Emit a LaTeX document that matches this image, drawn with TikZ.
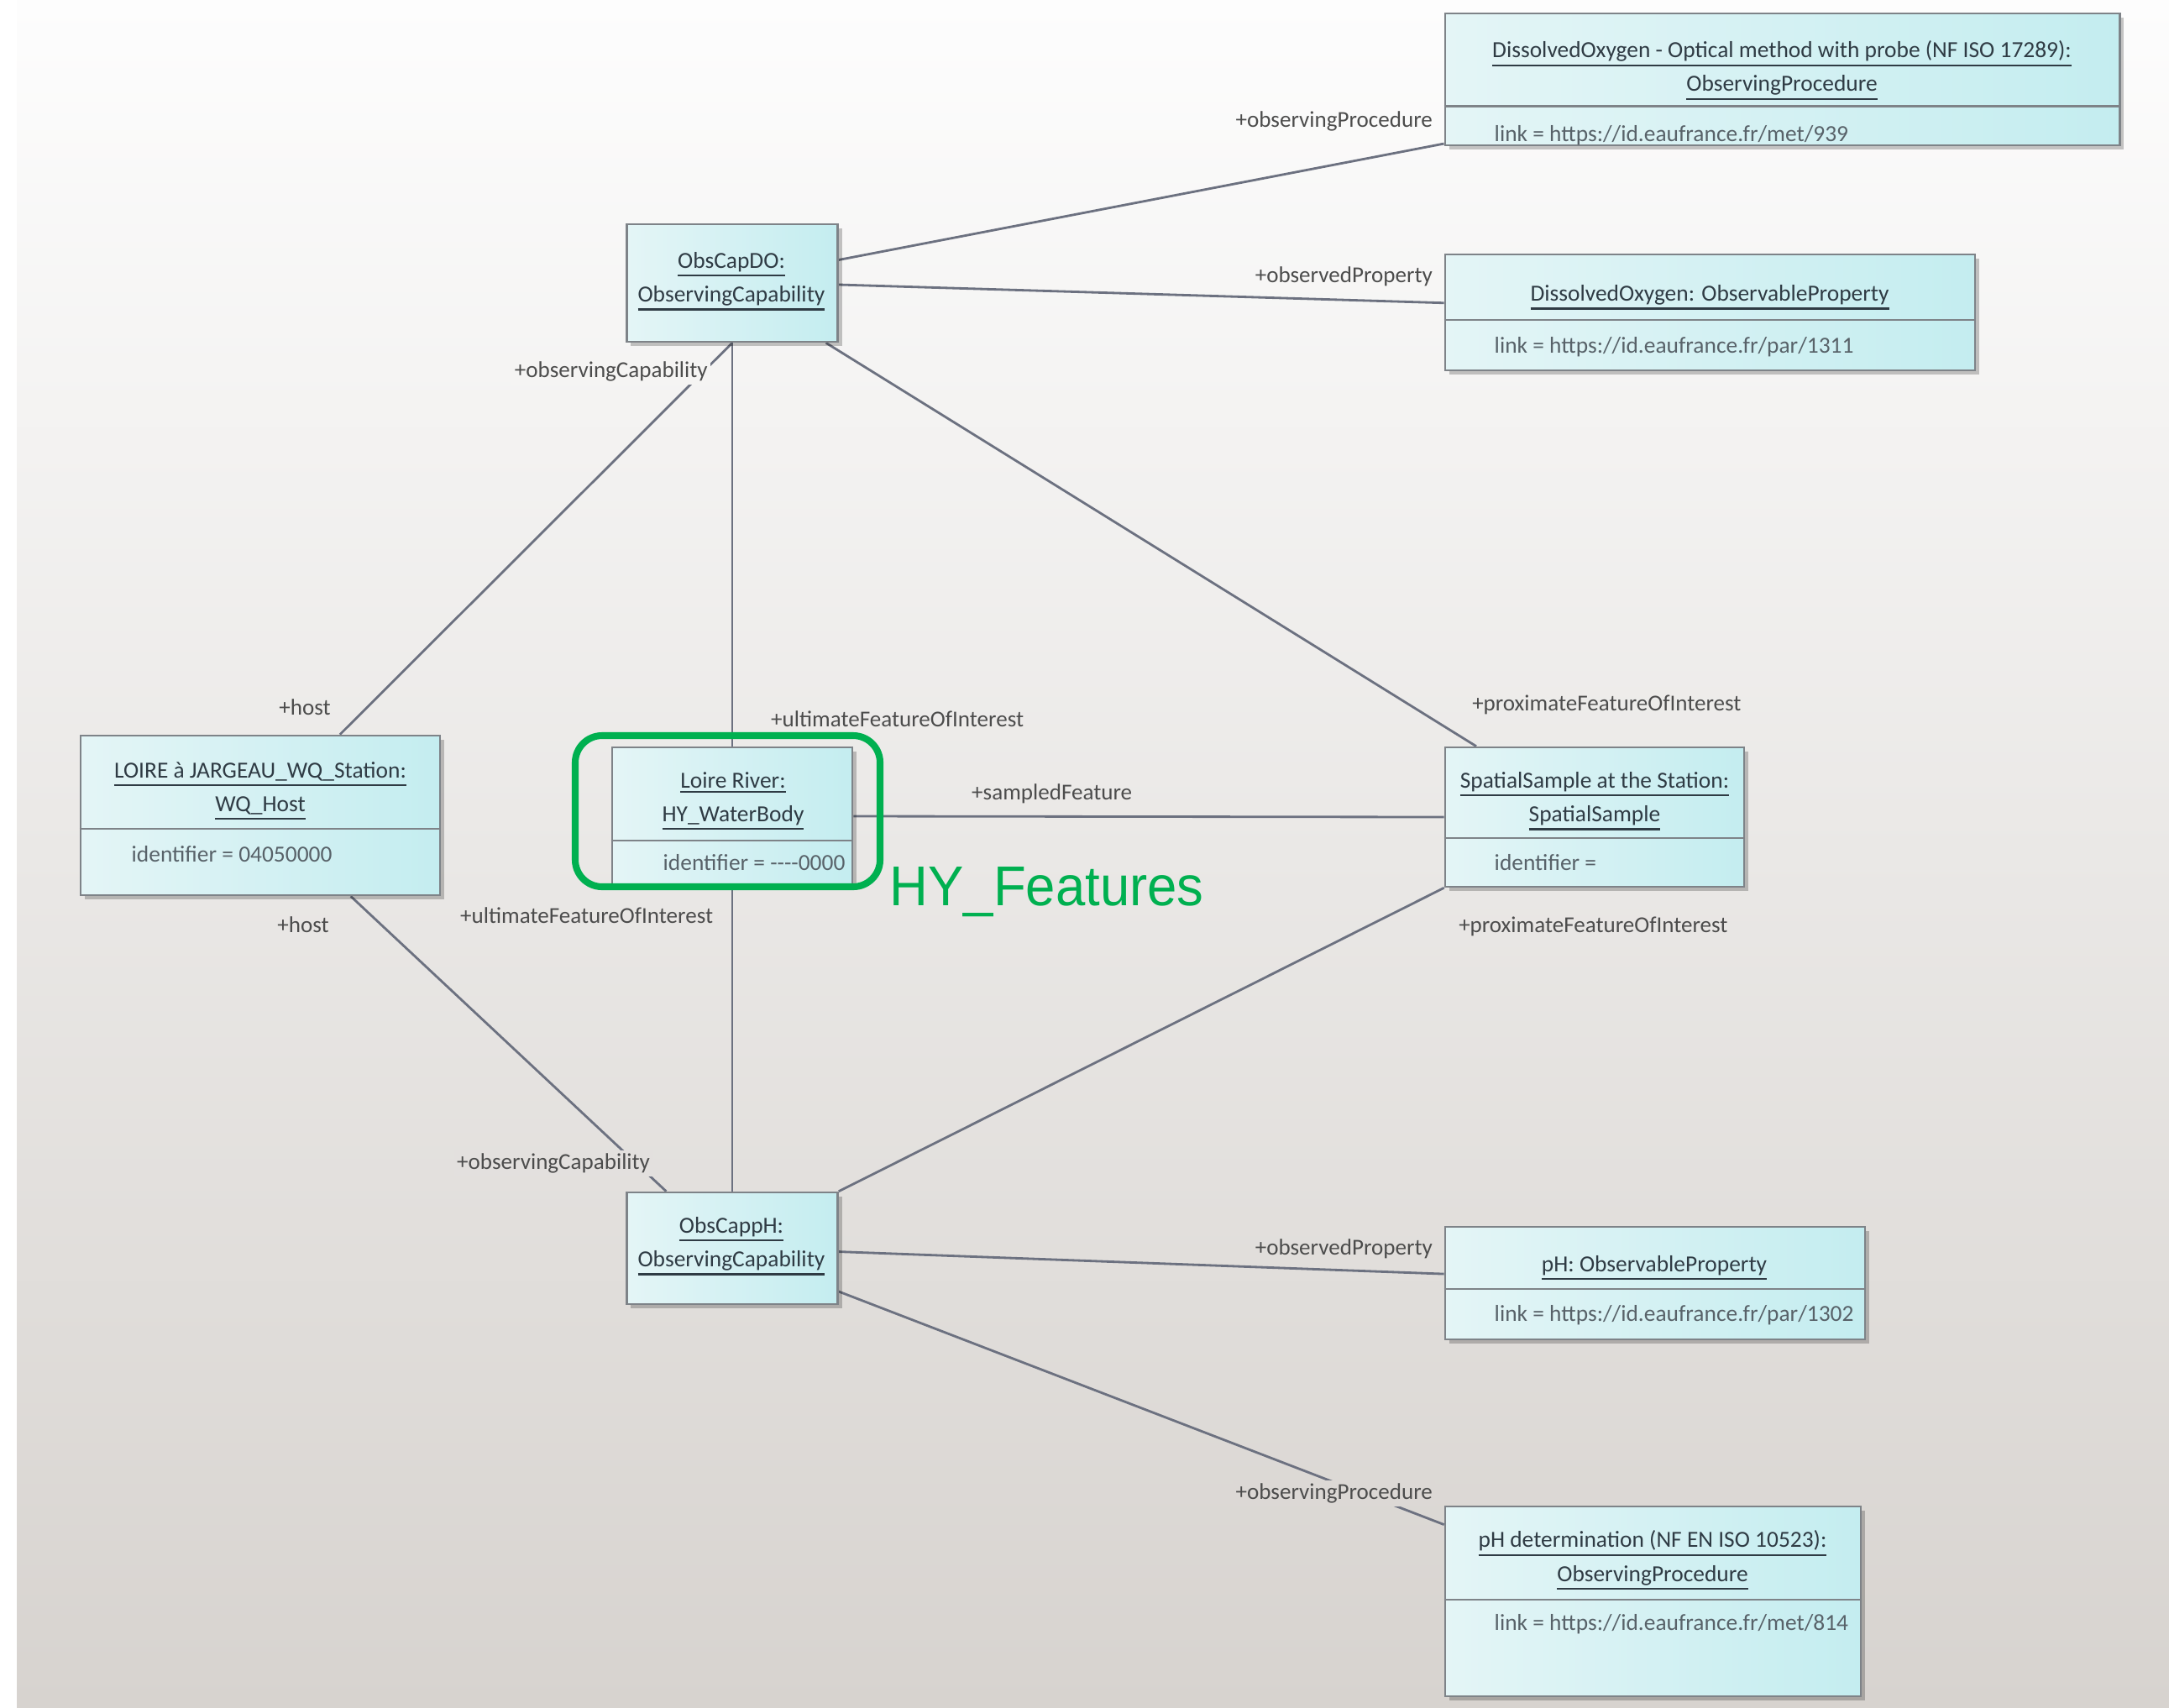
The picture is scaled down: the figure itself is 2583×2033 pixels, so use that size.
\documentclass[tikz,border=0pt]{standalone}
\usepackage{fontspec}
\usepackage{graphicx}
\setmainfont{Carlito}
\newfontfamily\arialf{Liberation Sans}
\usetikzlibrary{calc,shadows}
\definecolor{bgtop}{HTML}{FDFDFD}
\definecolor{bgbot}{HTML}{D7D3CF}
\definecolor{boxl}{HTML}{E4F5F6}
\definecolor{boxr}{HTML}{C4EDF0}
\definecolor{boxdraw}{HTML}{7E8388}
\definecolor{conn}{HTML}{6C7180}
\definecolor{txt}{HTML}{2F3B44}
\definecolor{lbl}{HTML}{4C4C4C}
\definecolor{hygreen}{HTML}{00B050}
\newcommand\ulname[1]{\vtop{\hbox{#1}\kern0.9pt\hrule height 0.65pt}}
\pgfdeclarelayer{bglayer}
\pgfdeclarelayer{linelayer}
\pgfsetlayers{bglayer,linelayer,main}
\begin{document}
\begin{tikzpicture}[x=0.01cm,y=-0.01cm,
  umlbox/.style={draw=boxdraw, line width=0.7pt, left color=boxl, right color=boxr,
    drop shadow={shadow xshift=0.05cm, shadow yshift=-0.05cm, fill=black, opacity=0.22},
    inner sep=0pt},
  divider/.style={draw=boxdraw, line width=0.7pt},
  conn/.style={draw=conn, line width=0.8pt},
  titletext/.style={font=\fontsize{7.8}{11.4}\selectfont, text=txt, align=center, inner sep=0pt},
  attrtext/.style={font=\fontsize{7.8}{10.2}\selectfont, text=txt!80, anchor=mid west, inner sep=0pt},
  rolelabel/.style={font=\fontsize{7.7}{9}\selectfont, text=lbl, inner sep=1pt},
  hyframe/.style={draw=hygreen, line width=2.3pt, rounded corners=0.32cm}
]
\useasboundingbox (0,0) rectangle (2583,2033);
\begin{pgfonlayer}{bglayer}
  \fill[white] (0,0) rectangle (2583,2033);
  \shade[top color=bgtop, bottom color=bgbot] (20,0) rectangle (2583,2033);
\end{pgfonlayer}

% boxes
\node[umlbox, minimum width=8.03cm, minimum height=1.57cm] (proc1) at (2122.5,94.5) {};
\node[umlbox, minimum width=2.51cm, minimum height=1.40cm] (ocDO) at (872,337) {};
\node[umlbox, minimum width=6.31cm, minimum height=1.38cm] (propDO) at (2036.5,372) {};
\node[umlbox, minimum width=4.28cm, minimum height=1.90cm] (host) at (310,971) {};
\node[umlbox, minimum width=2.86cm, minimum height=1.64cm] (loire) at (872,972) {};
\node[umlbox, minimum width=3.56cm, minimum height=1.66cm] (spatial) at (1899,973) {};
\node[umlbox, minimum width=2.51cm, minimum height=1.33cm] (ocPH) at (872,1486.5) {};
\node[umlbox, minimum width=5.00cm, minimum height=1.34cm] (propPH) at (1971,1528) {};
\node[umlbox, minimum width=4.95cm, minimum height=2.26cm] (proc2) at (1968.5,1907) {};

% compartment dividers
\draw[divider] ($(proc1.north west)+(0,112)$) -- ($(proc1.north east)+(0,112)$);
\draw[divider] ($(propDO.north west)+(0,79)$) -- ($(propDO.north east)+(0,79)$);
\draw[divider] ($(host.north west)+(0,112)$) -- ($(host.north east)+(0,112)$);
\draw[divider] ($(loire.north west)+(0,112)$) -- ($(loire.north east)+(0,112)$);
\draw[divider] ($(spatial.north west)+(0,109)$) -- ($(spatial.north east)+(0,109)$);
\draw[divider] ($(propPH.north west)+(0,75)$) -- ($(propPH.north east)+(0,75)$);
\draw[divider] ($(proc2.north west)+(0,112)$) -- ($(proc2.north east)+(0,112)$);

% box texts
\node[titletext] (proc1t) at (2122,84) {\ulname{DissolvedOxygen - Optical method with probe (NF ISO 17289):}\\\ulname{ObservingProcedure}};
\node[attrtext] (proc1a) at (1779,160) {link = https://id.eaufrance.fr/met/939};
\node[titletext] (ocDOt) at (871,335) {\ulname{ObsCapDO:}\\\ulname{ObservingCapability}};
\node[titletext] (propDOt) at (2036,354) {\ulname{DissolvedOxygen: ObservableProperty}};
\node[attrtext] (propDOa) at (1779,412) {link = https://id.eaufrance.fr/par/1311};
\node[titletext] (hostt) at (310,942) {\ulname{LOIRE à JARGEAU\_WQ\_Station:}\\\ulname{WQ\_Host}};
\node[attrtext] (hosta) at (156,1018) {identifier = 04050000};
\node[titletext] (loiret) at (873,954) {\ulname{Loire River:}\\\ulname{HY\_WaterBody}};
\node[attrtext] (loirea) at (789,1028) {identifier = {-}{-}{-}{-}0000};
\node[titletext] (spatialt) at (1899,954) {\ulname{SpatialSample at the Station:}\\\ulname{SpatialSample}};
\node[attrtext] (spatiala) at (1779,1028) {identifier =};
\node[titletext] (ocPHt) at (871,1484) {\ulname{ObsCappH:}\\\ulname{ObservingCapability}};
\node[titletext] (propPHt) at (1970,1510) {\ulname{pH: ObservableProperty}};
\node[attrtext] (propPHa) at (1779,1565) {link = https://id.eaufrance.fr/par/1302};
\node[titletext] (proc2t) at (1968,1858) {\ulname{pH determination (NF EN ISO 10523):}\\\ulname{ObservingProcedure}};
\node[attrtext] (proc2a) at (1779,1933) {link = https://id.eaufrance.fr/met/814};

% connectors
\begin{pgfonlayer}{linelayer}
\draw[conn] ($(ocDO.north east)!0.307!(ocDO.south east)$) -- ($(proc1.north west)!0.98!(proc1.south west)$);
\draw[conn] ($(ocDO.north east)!0.514!(ocDO.south east)$) -- ($(propDO.north west)!0.42!(propDO.south west)$);
\draw[conn] (ocDO.south) -- (loire.north);
\draw[conn] (ocDO.south) -- ($(host.north west)!0.72!(host.north east)$);
\draw[conn] ($(ocDO.south west)!0.94!(ocDO.south east)$) -- ($(spatial.north west)!0.107!(spatial.north east)$);
\draw[conn] (loire.east) -- (spatial.west);
\draw[conn] (loire.south) -- (ocPH.north);
\draw[conn] ($(host.south west)!0.75!(host.south east)$) -- ($(ocPH.north west)!0.19!(ocPH.north east)$);
\draw[conn] (ocPH.north east) -- (spatial.south west);
\draw[conn] ($(ocPH.north east)!0.53!(ocPH.south east)$) -- ($(propPH.north west)!0.42!(propPH.south west)$);
\draw[conn] ($(ocPH.north east)!0.88!(ocPH.south east)$) -- ($(proc2.north west)!0.10!(proc2.south west)$);
\end{pgfonlayer}

% HY_Features highlight
\draw[hyframe] (685,876) rectangle (1048,1056);
\node[font=\arialf\fontsize{19}{20}\selectfont, text=hygreen, anchor=west, inner sep=0pt] (hy) at (1059,1062) {\scalebox{0.95}[1]{HY\_Features}};

% role labels
\node[rolelabel, anchor=mid east] (l1) at (1710,143) {+observingProcedure};
\node[rolelabel, anchor=mid east] (l2) at (1710,328) {+observedProperty};
\node[rolelabel, anchor=mid east, fill=bgbot!22!bgtop] (l3) at (847,441) {+observingCapability};
\node[rolelabel, anchor=mid west] (l4) at (914,857) {+ultimateFeatureOfInterest};
\node[rolelabel, anchor=mid] (l5) at (363,843) {+host};
\node[rolelabel, anchor=mid west] (l6) at (1749,838) {+proximateFeatureOfInterest};
\node[rolelabel, anchor=mid west] (l7) at (1153,944) {+sampledFeature};
\node[rolelabel, anchor=mid west] (l8) at (544,1091) {+ultimateFeatureOfInterest};
\node[rolelabel, anchor=mid] (l9) at (361,1102) {+host};
\node[rolelabel, anchor=mid west] (l10) at (1733,1102) {+proximateFeatureOfInterest};
\node[rolelabel, anchor=mid west, fill=bgbot!68!bgtop] (l11) at (540,1384) {+observingCapability};
\node[rolelabel, anchor=mid east] (l12) at (1710,1486) {+observedProperty};
\node[rolelabel, anchor=mid east, fill=bgbot!87!bgtop] (l13) at (1710,1777) {+observingProcedure};
\end{tikzpicture}
\end{document}
